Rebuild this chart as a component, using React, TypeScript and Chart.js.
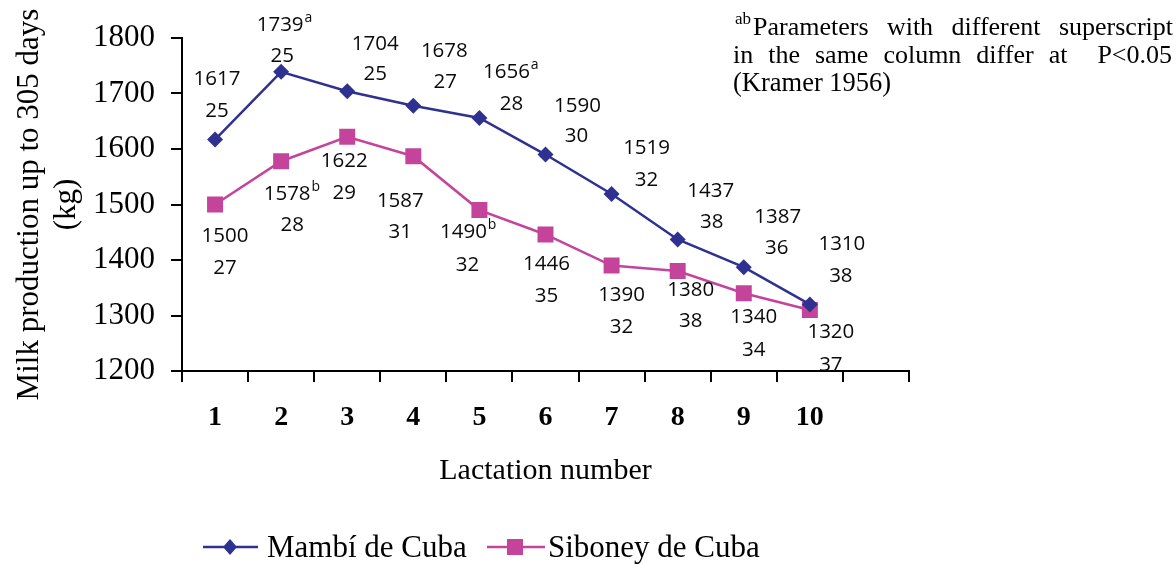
import React, { useEffect, useRef } from 'react';
import { Chart, registerables } from 'chart.js';

Chart.register(...registerables);

// ---------- data ----------
const lactationLabels = ['1', '2', '3', '4', '5', '6', '7', '8', '9', '10', ''];
const mambiValues = [1617, 1739, 1704, 1678, 1656, 1590, 1519, 1437, 1387, 1320];
const siboneyValues = [1500, 1578, 1622, 1587, 1490, 1446, 1390, 1380, 1340, 1310];

const mambiValueText = ['1617', '1739', '1704', '1678', '1656', '1590', '1519', '1437', '1387', '1310'];
const mambiSuperscripts = ['', 'a', '', '', 'a', '', '', '', '', ''];
const mambiCounts = ['25', '25', '25', '27', '28', '30', '32', '38', '36', '38'];

const siboneyValueText = ['1500', '1578', '1622', '1587', '1490', '1446', '1390', '1380', '1340', '1320'];
const siboneySuperscripts = ['', 'b', '', '', 'b', '', '', '', '', ''];
const siboneyCounts = ['27', '28', '29', '31', '32', '35', '32', '38', '34', '37'];

const yMin = 1200;
const yMax = 1800;
const yStep = 100;

const seriesNames = ['Mambí de Cuba', 'Siboney de Cuba'];
const footnoteMark = 'ab';
const footnoteLine1 = ['Parameters', 'with', 'different', 'superscript'];
const footnoteLine2 = ['in', 'the', 'same', 'column', 'differ', 'at', 'P<0.05'];
const footnoteLine3 = '(Kramer 1956)';

// ---------- layout (label placement relative to each point: dxValue, dyValue, dxCount, dyCount) ----------
const mambiLabelOffsets = [
  [2, -62, 2, -30], [-1, -48, 1, -17], [28, -49, 28, -19], [31, -56, 32, -25], [27, -47, 32, -15],
  [32, -50, 31, -20], [35, -47, 35, -15], [33, -50, 34, -19], [34, -52, 33, -21], [32, -62, 31, -30],
];
const siboneyLabelOffsets = [
  [10, 30, 10, 62], [6, 31, 11, 62], [-3, 23, -3, 55], [-13, 43, -13, 74], [-16, 21, -12, 54],
  [1, 28, 1, 60], [10, 28, 10, 60], [13, 18, 13, 49], [10, 22, 10, 55], [21, 21, 21, 54],
];

const NAVY = '#2E3190';
const PINK = '#C4449C';
const SERIF = '"Liberation Serif", "Times New Roman", serif';
const SANS = '"Open Sans", "Noto Sans", sans-serif';

function drawJustified(ctx: CanvasRenderingContext2D, words: string[], x0: number, x1: number, y: number, weights: number[]) {
  const widths = words.map((w) => ctx.measureText(w).width);
  const total = widths.reduce((a, b) => a + b, 0);
  const wsum = weights.reduce((a, b) => a + b, 0);
  const unit = (x1 - x0 - total) / wsum;
  let x = x0;
  ctx.textAlign = 'left';
  words.forEach((w, i) => {
    ctx.fillText(w, x, y);
    x += widths[i] + (i < weights.length ? weights[i] * unit : 0);
  });
}

const labelPlugin = {
  id: 'pointValueLabels',
  afterDatasetsDraw(chart: any) {
    const ctx: CanvasRenderingContext2D = chart.ctx;
    const sets = [
      { meta: chart.getDatasetMeta(0), vals: mambiValueText, sups: mambiSuperscripts, ns: mambiCounts, offs: mambiLabelOffsets },
      { meta: chart.getDatasetMeta(1), vals: siboneyValueText, sups: siboneySuperscripts, ns: siboneyCounts, offs: siboneyLabelOffsets },
    ];
    ctx.save();
    ctx.fillStyle = '#0a0a0a';
    ctx.textBaseline = 'alphabetic';
    sets.forEach((s) => {
      s.meta.data.forEach((p: any, i: number) => {
        const [dxV, dyV, dxN, dyN] = s.offs[i];
        ctx.font = `20.5px ${SANS}`;
        ctx.textAlign = 'center';
        const cx = p.x + dxV;
        const by = p.y + dyV + 7.3;
        ctx.fillText(s.vals[i], cx, by);
        const w = ctx.measureText(s.vals[i]).width;
        ctx.fillText(s.ns[i], p.x + dxN, p.y + dyN + 7.3);
        if (s.sups[i]) {
          ctx.font = `14px ${SANS}`;
          ctx.textAlign = 'left';
          ctx.fillText(s.sups[i], cx + w / 2 + 1, by - 9);
        }
      });
    });
    ctx.restore();
  },
  afterDraw(chart: any) {
    const ctx: CanvasRenderingContext2D = chart.ctx;
    ctx.save();
    // legend
    const ly = 547;
    ctx.lineWidth = 2.5;
    ctx.strokeStyle = NAVY;
    ctx.beginPath();
    ctx.moveTo(203, ly);
    ctx.lineTo(258, ly);
    ctx.stroke();
    ctx.fillStyle = NAVY;
    ctx.beginPath();
    ctx.moveTo(230 - 7, ly);
    ctx.lineTo(230, ly - 8);
    ctx.lineTo(230 + 7, ly);
    ctx.lineTo(230, ly + 8);
    ctx.closePath();
    ctx.fill();
    ctx.strokeStyle = PINK;
    ctx.beginPath();
    ctx.moveTo(487, ly);
    ctx.lineTo(545, ly);
    ctx.stroke();
    ctx.fillStyle = PINK;
    ctx.fillRect(515 - 8, ly - 8, 16, 16);
    ctx.fillStyle = '#000';
    ctx.font = `31px ${SERIF}`;
    ctx.textAlign = 'left';
    ctx.textBaseline = 'alphabetic';
    ctx.fillText(seriesNames[0], 267, 557);
    ctx.fillText(seriesNames[1], 548, 557);

    // footnote
    ctx.font = `17px ${SERIF}`;
    ctx.fillText(footnoteMark, 735, 24);
    ctx.font = `26px ${SERIF}`;
    drawJustified(ctx, footnoteLine1, 753, 1173, 35, [1, 1, 1]);
    drawJustified(ctx, footnoteLine2, 733, 1172, 63, [1, 1, 1, 1, 1, 2]);
    ctx.textAlign = 'left';
    ctx.font = `26.5px ${SERIF}`;
    ctx.fillText(footnoteLine3, 733, 91);
    ctx.restore();
  },
};

export default function App() {
  const canvasRef = useRef<HTMLCanvasElement>(null);

  useEffect(() => {
    document.body.style.margin = '0';
    const canvas = canvasRef.current;
    if (!canvas) return;
    const chart = new Chart(canvas, {
      type: 'line',
      data: {
        labels: lactationLabels,
        datasets: [
          {
            label: seriesNames[0],
            data: mambiValues,
            borderColor: NAVY,
            backgroundColor: NAVY,
            borderWidth: 2.5,
            pointStyle: 'rectRot',
            pointRadius: 8,
            pointBorderWidth: 0,
            pointBackgroundColor: NAVY,
            tension: 0,
          },
          {
            label: seriesNames[1],
            data: siboneyValues,
            borderColor: PINK,
            backgroundColor: PINK,
            borderWidth: 2.5,
            pointStyle: 'rect',
            pointRadius: 11.3,
            pointBorderWidth: 0,
            pointBackgroundColor: PINK,
            tension: 0,
          },
        ],
      },
      options: {
        animation: false,
        responsive: false,
        devicePixelRatio: 1,
        layout: { padding: { left: 0, top: 38, right: 267, bottom: 68 } },
        plugins: {
          legend: { display: false },
          title: { display: false },
          tooltip: { enabled: false },
        },
        scales: {
          x: {
            type: 'category',
            offset: true,
            afterFit: (scale: any) => {
              scale.height = 125;
            },
            grid: {
              display: true,
              offset: true,
              drawOnChartArea: false,
              drawTicks: true,
              tickLength: 11,
              color: '#000',
              lineWidth: 2,
            },
            border: { display: true, color: '#000', width: 2 },
            ticks: {
              color: '#000',
              padding: 19,
              maxRotation: 0,
              autoSkip: false,
              font: { family: SERIF, size: 28, weight: 'bold' },
            },
            title: {
              display: true,
              text: 'Lactation number',
              color: '#000',
              font: { family: SERIF, size: 30 },
              padding: { top: 0, bottom: 7 },
            },
          },
          y: {
            type: 'linear',
            min: yMin,
            max: yMax,
            afterFit: (scale: any) => {
              scale.width = 182;
            },
            grid: {
              display: true,
              drawOnChartArea: false,
              drawTicks: true,
              tickLength: 11,
              color: '#000',
              lineWidth: 2,
            },
            border: { display: true, color: '#000', width: 2 },
            ticks: {
              stepSize: yStep,
              color: '#000',
              padding: 16,
              font: { family: SERIF, size: 31 },
              callback: (v: any) => String(v),
            },
            title: {
              display: true,
              text: ['Milk production up to 305 days', '(kg)'],
              color: '#000',
              font: { family: SERIF, size: 31 },
              padding: { top: 11, bottom: 0 },
            },
          },
        },
      },
      plugins: [labelPlugin],
    });
    return () => chart.destroy();
  }, []);

  return (
    <div style={{ width: 1176, height: 564, position: 'relative' }}>
      <canvas ref={canvasRef} width={1176} height={564} style={{ display: 'block' }} />
    </div>
  );
}
